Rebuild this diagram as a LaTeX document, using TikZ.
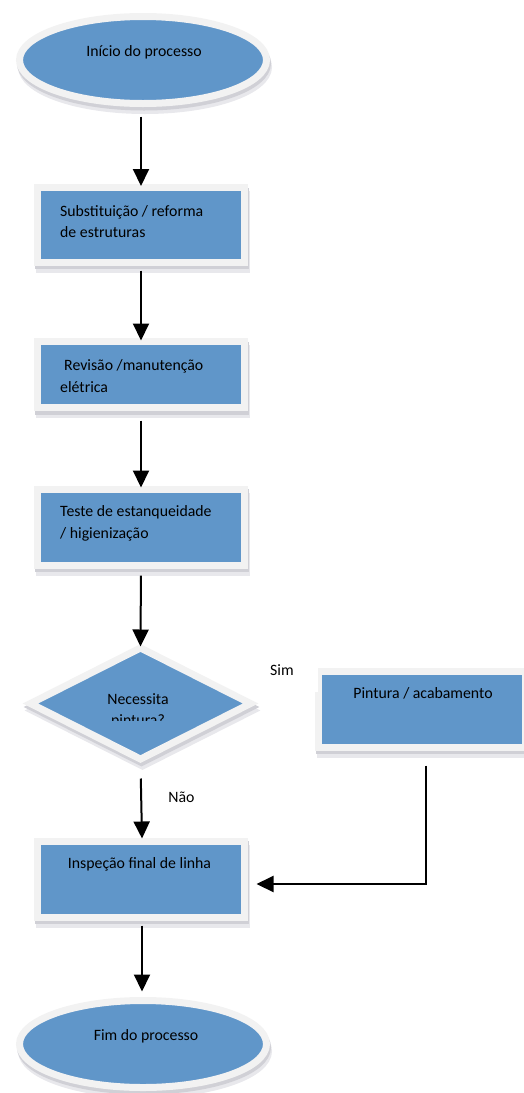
\documentclass[tikz,border=0pt]{standalone}
\usepackage{fontspec}
\setmainfont{Carlito}
\usetikzlibrary{shapes.geometric,arrows.meta,calc}
\definecolor{fillblue}{RGB}{96,150,201}
\definecolor{rim}{RGB}{242,242,242}
\definecolor{shadeA}{RGB}{232,232,236}
\definecolor{shadeB}{RGB}{208,208,214}
\tikzset{
  softshadow/.style={
    preaction={draw=shadeA, fill=shadeA, line width=7pt, transform canvas={xshift=2pt,yshift=-7pt}},
    preaction={draw=shadeB, fill=shadeB, line width=7pt, transform canvas={xshift=1pt,yshift=-3.5pt}}},
  flowshape/.style={softshadow, fill=fillblue, draw=rim, line width=7pt, inner sep=0pt},
  stepbox/.style={flowshape, rectangle, minimum width=207pt},
  terminal/.style={flowshape, ellipse, minimum width=247pt, minimum height=87pt},
  decision/.style={flowshape, diamond, minimum width=223pt, minimum height=114pt},
  txt/.style={font=\fontsize{15.8}{21.5}\selectfont, text=black, inner sep=0pt, align=left},
  conn/.style={draw=black, line width=2pt, -{Triangle[length=17pt,width=16pt]}},
}
\begin{document}
\begin{tikzpicture}[x={(1pt,0)}, y={(0,-1pt)}]
\useasboundingbox (0,0) rectangle (523,1093);
% shapes
\node[terminal] (start) at (143,60) {};
\node[stepbox, minimum height=74.5pt] (b1) at (141,224.75) {};
\node[stepbox, minimum height=66pt] (b2) at (141,374.5) {};
\node[stepbox, minimum height=76pt] (b3) at (141,527) {};
\node[decision] (dia) at (140.5,703.5) {};
\node[stepbox, minimum height=76pt] (pint) at (422,709) {};
\node[stepbox, minimum height=76pt] (insp) at (141,879) {};
\node[terminal] (fim) at (143,1044) {};
% texts
\node[txt] (t0) at (144,52) {Início do processo};
\node[txt, anchor=west] (t1) at (60,221.5) {Substituição / reforma\\de estruturas};
\node[txt, anchor=west] (t2) at (60,376) {\hspace*{4pt}Revisão /manutenção\\elétrica};
\node[txt, anchor=west] (t3) at (60,523.5) {Teste de estanqueidade\\/ higienização};
\begin{scope}
  \clip (40,650) rectangle (240,720.5);
  \node[txt, align=center] (tq) at (138,710.75) {Necessita\\pintura?};
\end{scope}
\node[txt] (tp) at (423,693) {Pintura / acabamento};
\node[txt] (ti) at (139.5,864) {Inspeção final de linha};
\node[txt] (tf) at (146,1036) {Fim do processo};
\node[txt, fill=white, minimum height=44pt, text width=38pt, inner xsep=10pt, anchor=west] (sim) at (260,670) {Sim};
\node[txt] (nao) at (181.5,797) {Não};
% connectors
\draw[conn, shorten <=9.5pt, shorten >=-2pt] (start.south -| b1.north) -- (b1.north);
\draw[conn, shorten <=5pt, shorten >=-2.5pt] (b1.south) -- (b2.north);
\draw[conn, shorten <=9.5pt, shorten >=-2pt] (b2.south) -- (b3.north);
\draw[conn, shorten <=7pt, shorten >=-3.5pt] (b3.south) -- (dia.north);
\draw[conn, shorten <=14.5pt, shorten >=-1pt] (dia.south) -- ($(insp.north)+(1,0)$);
\draw[conn, shorten <=15pt, shorten >=8.5pt] ([xshift=4pt]pint.south) |- ($(insp.east)+(0,5)$);
\draw[conn, shorten <=5pt, shorten >=5.5pt] ([xshift=1pt]insp.south) -- ([xshift=1pt]insp.south |- fim.north);
\end{tikzpicture}
\end{document}
